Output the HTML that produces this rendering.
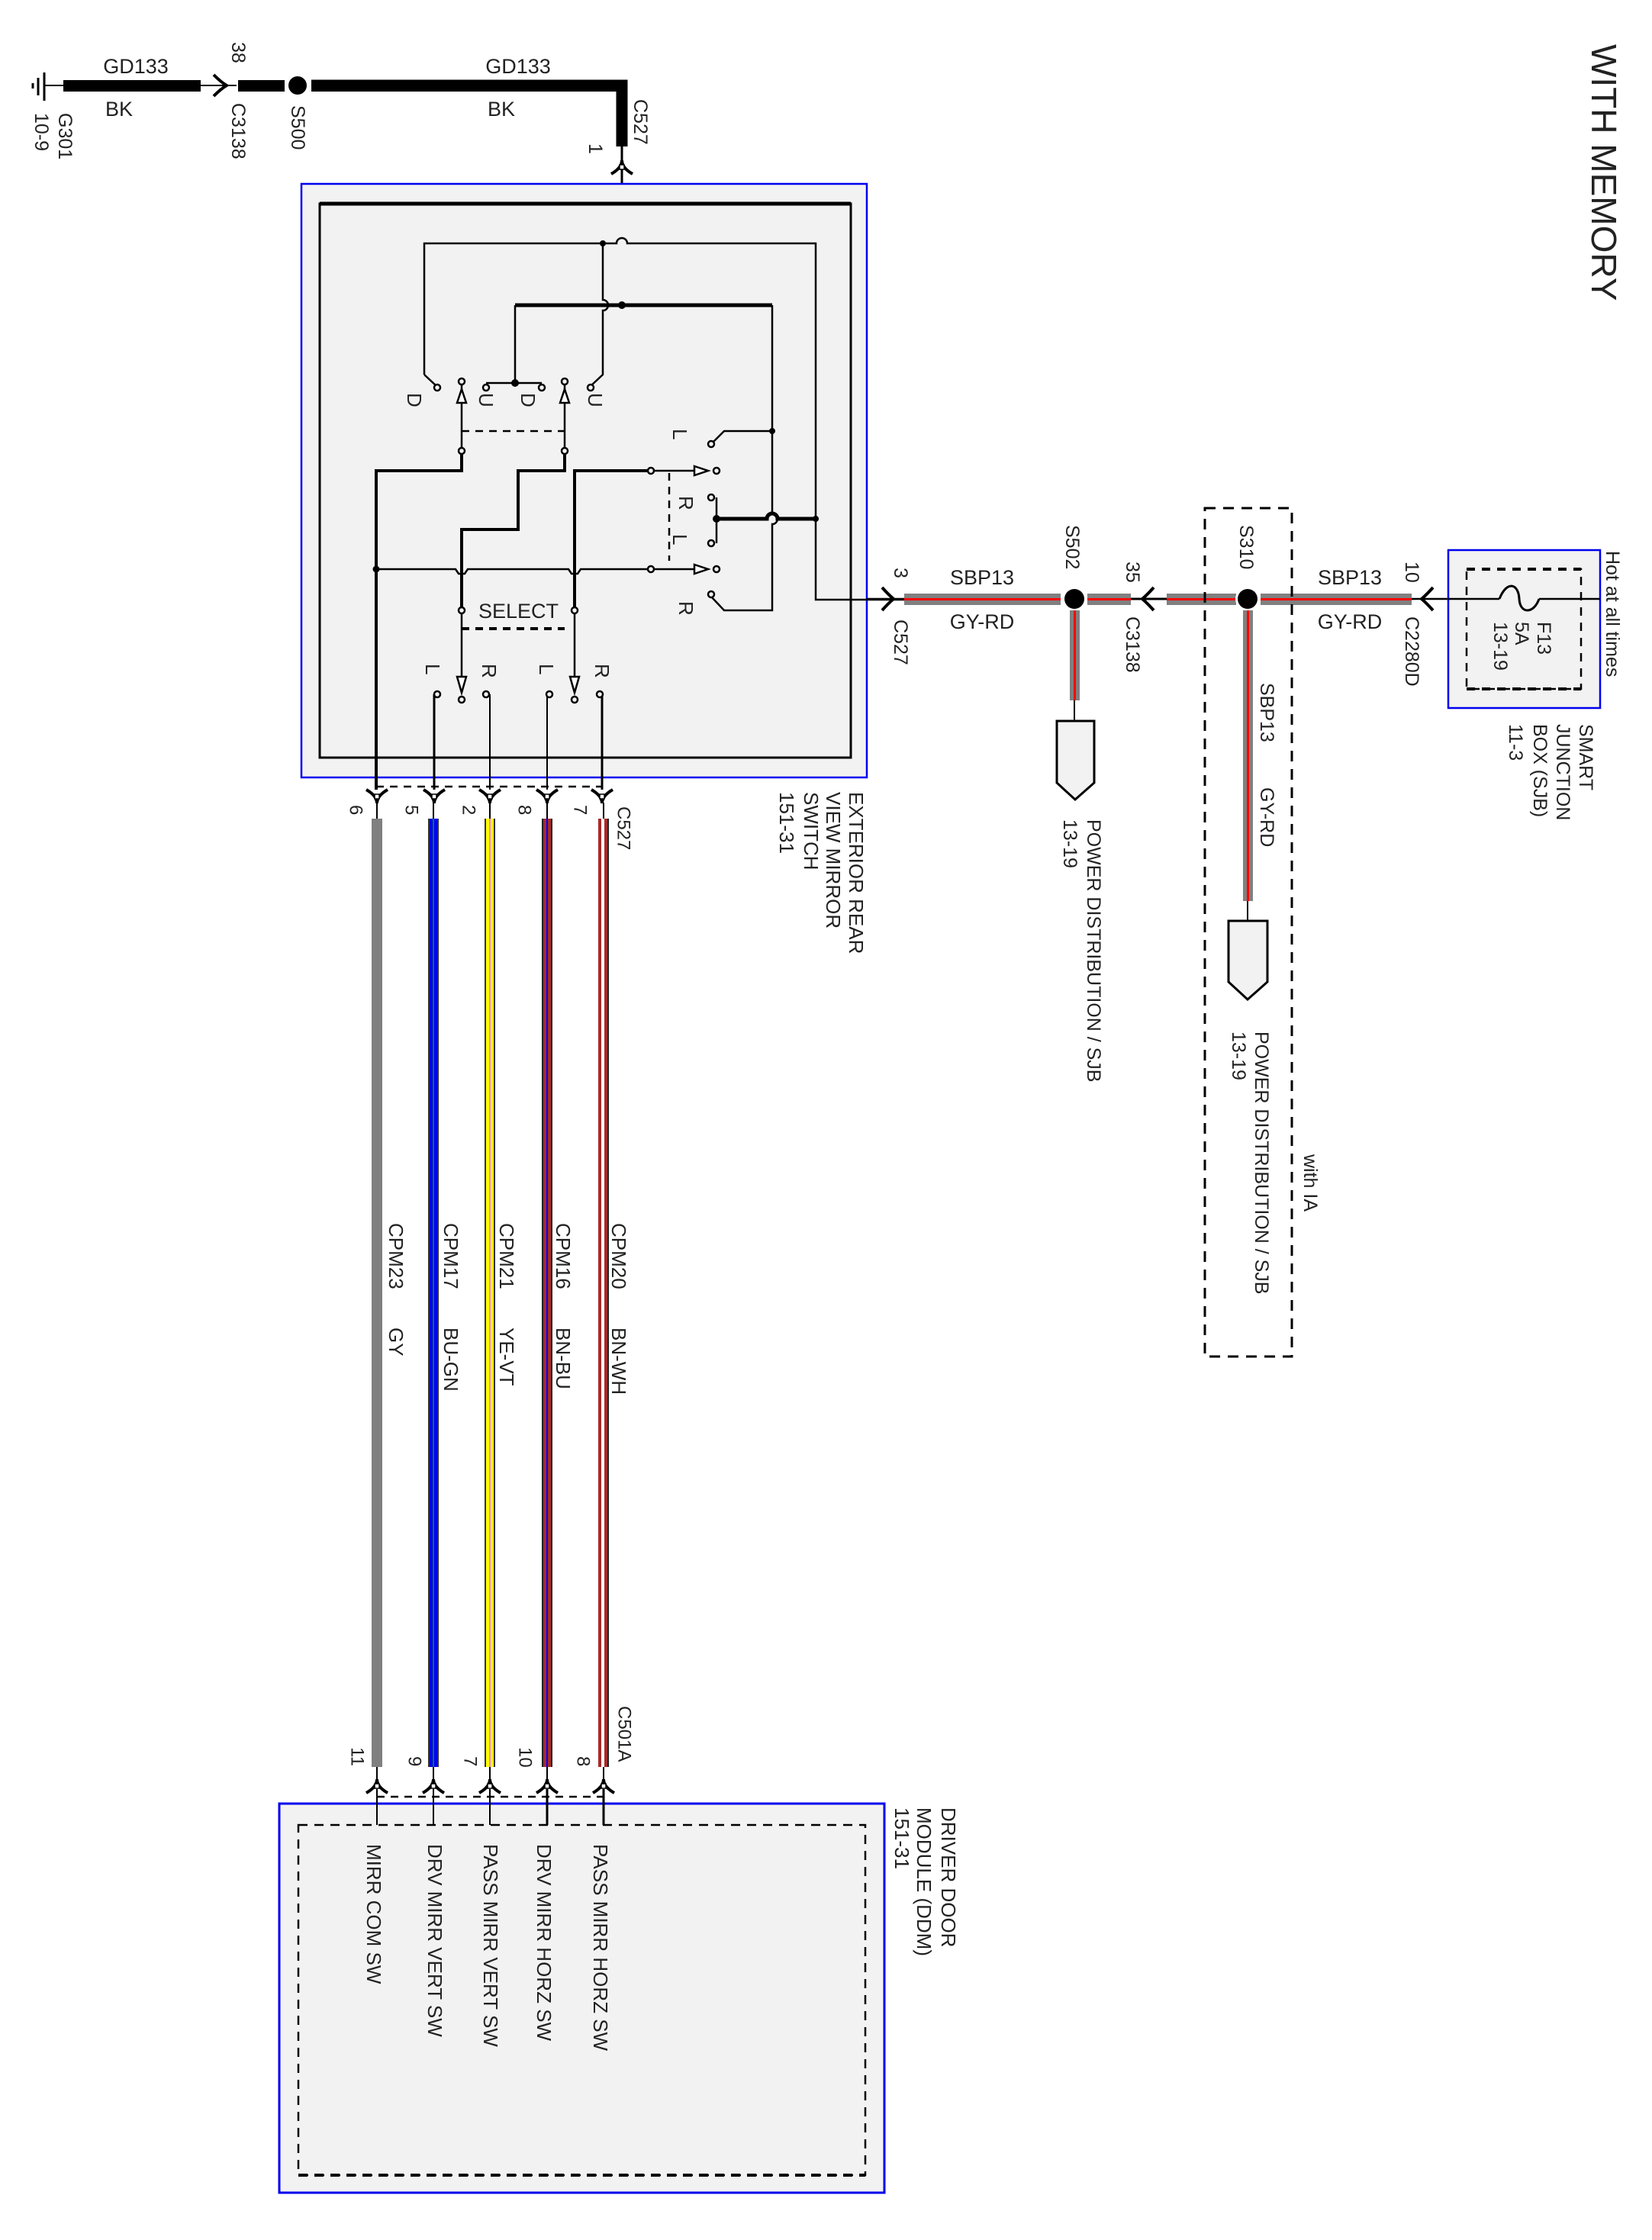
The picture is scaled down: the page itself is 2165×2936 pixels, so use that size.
<!DOCTYPE html>
<html><head><meta charset="utf-8"><style>
html,body{margin:0;padding:0;background:#fff}
svg{display:block}
text{font-family:"Liberation Sans",Arial,sans-serif;fill:#222}
</style></head><body>
<svg xmlns="http://www.w3.org/2000/svg" width="2165" height="2936" viewBox="0 0 2165 2936">
<defs>
<g id="cd"><path d="M-14,-10 Q0,-2 0,8 Q0,-2 14,-10" fill="none" stroke="#000" stroke-width="4"/><rect x="-3" y="-4" width="6" height="6" fill="#fff" stroke="#000" stroke-width="1.5"/></g>
</defs>
<rect width="2165" height="2936" fill="#fff"/>

<line x1="58" y1="95" x2="58" y2="132" stroke="#000" stroke-width="3"/>
<line x1="50" y1="102" x2="50" y2="125" stroke="#000" stroke-width="3"/>
<line x1="43" y1="109" x2="43" y2="116" stroke="#000" stroke-width="3"/>
<line x1="58" y1="112" x2="310" y2="112" stroke="#000" stroke-width="2"/>
<rect x="83" y="105" width="180" height="15" fill="#000"/>
<path d="M280,98 Q290,108 297,112 Q290,116 280,126" fill="none" stroke="#000" stroke-width="4"/>
<rect x="312" y="105" width="61" height="15" fill="#000"/>
<circle cx="390" cy="112" r="12" fill="#000"/>
<path d="M408,112 H815 V192" fill="none" stroke="#000" stroke-width="15"/>
<rect x="408" y="105" width="414" height="15" fill="#000"/>
<line x1="815" y1="190" x2="815" y2="400" stroke="#000" stroke-width="3"/>
<g transform="translate(815,218) rotate(180)"><use href="#cd"/></g>

<text x="178" y="96" font-size="27" text-anchor="middle">GD133</text>
<text x="156" y="152" font-size="27" text-anchor="middle">BK</text>
<text x="679" y="96" font-size="27" text-anchor="middle">GD133</text>
<text x="657" y="152" font-size="27" text-anchor="middle">BK</text>
<g font-size="25" dominant-baseline="central">
<text transform="translate(85,148) rotate(90)">G301</text>
<text transform="translate(54,148) rotate(90)">10-9</text>
<text transform="translate(312,55) rotate(90)">38</text>
<text transform="translate(312,135) rotate(90)">C3138</text>
<text transform="translate(390,138) rotate(90)">S500</text>
<text transform="translate(839,130) rotate(90)">C527</text>
<text transform="translate(780,188) rotate(90)">1</text>
</g>

<rect x="395" y="241" width="741" height="778" fill="#f2f2f2" stroke="#0000ee" stroke-width="2.5"/>
<rect x="419" y="267" width="696" height="726" fill="none" stroke="#000" stroke-width="3"/>
<line x1="419" y1="267" x2="1115" y2="267" stroke="#000" stroke-width="5"/>

<g fill="none" stroke="#000" stroke-width="2.5">
<path d="M556,491 V319 H808 a7,7 0 0 1 14,0 H1069 V786 H1185"/>
<path d="M556,491 L572,506"/>
<path d="M790,319 V393 a7,7 0 0 1 0,14 V491 L774,506"/>
<path d="M675,400 H1012" stroke-width="5"/>
<path d="M675,400 V502"/>
<path d="M637,502 H710"/>
<path d="M1012,400 V673 a7,7 0 0 1 0,14 V800 H949 L932,782"/>
<path d="M1012,565 H949 L932,582"/>
<path d="M939,652 V712"/>
<path d="M939,680 H1005 a7,7 0 0 1 14,0 H1069" stroke-width="5"/>
<path d="M605,500 V591"/>
<path d="M740,500 V591"/>
<path d="M605,591 V617 H493 V1035" stroke-width="4"/>
<path d="M740,591 V617 H679 V694 H605 V800" stroke-width="4"/>
<path d="M753,800 V617 H853" stroke-width="4"/>
<path d="M493,746 H597 l4,6 h8 l4,-6 H745 l4,6 h8 l4,-6 H853"/>
<path d="M853,617 H910"/>
<path d="M853,746 H910"/>
<path d="M605,800 V890"/>
<path d="M753,800 V890"/>
<path d="M569,910 V1035" stroke-width="3"/>
<path d="M642,910 V1035" stroke-width="2"/>
<path d="M717,910 V1035" stroke-width="2"/>
<path d="M789,910 V1035" stroke-width="3"/>
</g>
<g fill="none" stroke="#000" stroke-width="2.5" stroke-dasharray="10,8">
<path d="M605,565 H740"/>
<path d="M877,620 V735"/>
<path d="M605,824 H740" stroke-width="4"/>
<path d="M493,1031 H789"/>
</g>
<g fill="#000">
<circle cx="815" cy="400" r="5"/>
<circle cx="675" cy="502" r="5"/>
<circle cx="493" cy="746" r="4.5"/>
<circle cx="939" cy="680" r="5"/>
<circle cx="1069" cy="680" r="4"/>
<circle cx="1012" cy="565" r="4"/>
<circle cx="790" cy="319" r="4"/>
</g>
<g fill="#f2f2f2" stroke="#000" stroke-width="2.5">
<circle cx="573" cy="508" r="4"/><circle cx="637" cy="508" r="4"/><circle cx="710" cy="508" r="4"/><circle cx="774" cy="508" r="4"/>
<circle cx="605" cy="500" r="4"/><circle cx="740" cy="500" r="4"/>
<circle cx="605" cy="591" r="4"/><circle cx="740" cy="591" r="4"/>
<circle cx="932" cy="582" r="4"/><circle cx="939" cy="617" r="4"/><circle cx="932" cy="652" r="4"/><circle cx="932" cy="712" r="4"/><circle cx="939" cy="746" r="4"/><circle cx="932" cy="779" r="4"/>
<circle cx="853" cy="617" r="4"/><circle cx="853" cy="746" r="4"/>
<circle cx="605" cy="800" r="4"/><circle cx="753" cy="800" r="4"/>
<circle cx="605" cy="917" r="4"/><circle cx="753" cy="917" r="4"/>
<circle cx="573" cy="910" r="4"/><circle cx="637" cy="910" r="4"/><circle cx="720" cy="910" r="4"/><circle cx="786" cy="910" r="4"/>
</g>
<g fill="#fff" stroke="#000" stroke-width="2.5">
<path d="M599,528 L605,510 L611,528 Z"/>
<path d="M734,528 L740,510 L746,528 Z"/>
<path d="M910,611 L928,617 L910,623 Z"/>
<path d="M910,740 L928,746 L910,752 Z"/>
<path d="M599,887 L605,908 L611,887 Z"/>
<path d="M747,887 L753,908 L759,887 Z"/>
</g>
<g font-size="26" dominant-baseline="central" fill="#333">
<text transform="translate(543,515) rotate(90)">D</text>
<text transform="translate(637,515) rotate(90)">U</text>
<text transform="translate(692,515) rotate(90)">D</text>
<text transform="translate(780,515) rotate(90)">U</text>
<text transform="translate(891,562) rotate(90)">L</text>
<text transform="translate(899,650) rotate(90)">R</text>
<text transform="translate(891,700) rotate(90)">L</text>
<text transform="translate(899,788) rotate(90)">R</text>
<text transform="translate(567,870) rotate(90)">L</text>
<text transform="translate(641,870) rotate(90)">R</text>
<text transform="translate(716,870) rotate(90)">L</text>
<text transform="translate(789,870) rotate(90)">R</text>
</g>
<text x="627" y="810" font-size="27">SELECT</text>

<g transform="translate(494,1045)"><use href="#cd"/></g>
<g transform="translate(569,1045)"><use href="#cd"/></g>
<g transform="translate(642,1045)"><use href="#cd"/></g>
<g transform="translate(717,1045)"><use href="#cd"/></g>
<g transform="translate(789,1045)"><use href="#cd"/></g>
<g font-size="24" dominant-baseline="central" fill="#333">
<text transform="translate(466,1055) rotate(90)">6</text>
<text transform="translate(539,1055) rotate(90)">5</text>
<text transform="translate(614,1055) rotate(90)">2</text>
<text transform="translate(687,1055) rotate(90)">8</text>
<text transform="translate(760,1055) rotate(90)">7</text>
<text transform="translate(817,1057) rotate(90)">C527</text>
</g>
<g font-size="26" dominant-baseline="central" fill="#333">
<text transform="translate(1122,1038) rotate(90)">EXTERIOR REAR</text>
<text transform="translate(1092,1038) rotate(90)">VIEW MIRROR</text>
<text transform="translate(1063,1038) rotate(90)">SWITCH</text>
<text transform="translate(1031,1038) rotate(90)">151-31</text>
</g>

<g>
<line x1="494" y1="1052" x2="494" y2="2335" stroke="#000" stroke-width="2"/>
<line x1="568" y1="1052" x2="568" y2="2335" stroke="#000" stroke-width="2"/>
<line x1="642" y1="1052" x2="642" y2="2335" stroke="#000" stroke-width="2"/>
<line x1="717" y1="1052" x2="717" y2="2335" stroke="#000" stroke-width="2"/>
<line x1="791" y1="1052" x2="791" y2="2335" stroke="#000" stroke-width="2"/>
<rect x="487" y="1073" width="14" height="1243" fill="#808080"/>
<rect x="561" y="1073" width="14" height="1243" fill="#333"/><rect x="563" y="1073" width="10" height="1243" fill="#0000ff"/><rect x="567" y="1073" width="2" height="1243" fill="#008000"/>
<rect x="635" y="1073" width="14" height="1243" fill="#333"/><rect x="637" y="1073" width="10" height="1243" fill="#ffff00"/><rect x="641" y="1073" width="2" height="1243" fill="#ff77ff"/>
<rect x="710" y="1073" width="14" height="1243" fill="#222"/><rect x="712" y="1073" width="10" height="1243" fill="#a52a2a"/><rect x="716" y="1073" width="2" height="1243" fill="#0000ff"/>
<rect x="784" y="1073" width="14" height="1243" fill="#222"/><rect x="784" y="1073" width="12" height="1243" fill="#a52a2a"/><rect x="788" y="1073" width="4" height="1243" fill="#fff"/>
</g>
<g font-size="26" dominant-baseline="central" fill="#333">
<text transform="translate(519,1603) rotate(90)">CPM23</text><text transform="translate(519,1740) rotate(90)">GY</text>
<text transform="translate(591,1603) rotate(90)">CPM17</text><text transform="translate(591,1740) rotate(90)">BU-GN</text>
<text transform="translate(664,1603) rotate(90)">CPM21</text><text transform="translate(664,1740) rotate(90)">YE-VT</text>
<text transform="translate(738,1603) rotate(90)">CPM16</text><text transform="translate(738,1740) rotate(90)">BN-BU</text>
<text transform="translate(811,1603) rotate(90)">CPM20</text><text transform="translate(811,1740) rotate(90)">BN-WH</text>
</g>

<line x1="494" y1="2355" x2="791" y2="2355" stroke="#000" stroke-width="2.5" stroke-dasharray="10,8"/>
<g transform="translate(494,2340) rotate(180)"><use href="#cd"/></g>
<g transform="translate(568,2340) rotate(180)"><use href="#cd"/></g>
<g transform="translate(642,2340) rotate(180)"><use href="#cd"/></g>
<g transform="translate(717,2340) rotate(180)"><use href="#cd"/></g>
<g transform="translate(791,2340) rotate(180)"><use href="#cd"/></g>
<g font-size="24" dominant-baseline="central" fill="#333">
<text transform="translate(468,2290) rotate(90)">11</text>
<text transform="translate(543,2302) rotate(90)">9</text>
<text transform="translate(616,2302) rotate(90)">7</text>
<text transform="translate(688,2290) rotate(90)">10</text>
<text transform="translate(764,2302) rotate(90)">8</text>
<text transform="translate(818,2236) rotate(90)">C501A</text>
</g>
<rect x="366" y="2364" width="793" height="510" fill="#f2f2f2" stroke="#0000ee" stroke-width="3"/>
<rect x="391" y="2392" width="743" height="459" fill="none" stroke="#000" stroke-width="2.5" stroke-dasharray="12,9"/>
<line x1="391" y1="2851" x2="1134" y2="2851" stroke="#000" stroke-width="4" stroke-dasharray="12,9"/>
<g stroke="#000" stroke-width="2">
<line x1="494" y1="2345" x2="494" y2="2392"/><line x1="568" y1="2345" x2="568" y2="2392"/><line x1="642" y1="2345" x2="642" y2="2392"/><line x1="717" y1="2345" x2="717" y2="2392" stroke-width="3"/><line x1="791" y1="2345" x2="791" y2="2392" stroke-width="3"/>
</g>
<g font-size="26" dominant-baseline="central" fill="#333">
<text transform="translate(490,2417) rotate(90)">MIRR COM SW</text>
<text transform="translate(570,2417) rotate(90)">DRV MIRR VERT SW</text>
<text transform="translate(643,2417) rotate(90)">PASS MIRR VERT SW</text>
<text transform="translate(713,2417) rotate(90)">DRV MIRR HORZ SW</text>
<text transform="translate(787,2417) rotate(90)">PASS MIRR HORZ SW</text>
<text transform="translate(1243,2369) rotate(90)">DRIVER DOOR</text>
<text transform="translate(1211,2369) rotate(90)">MODULE (DDM)</text>
<text transform="translate(1182,2369) rotate(90)">151-31</text>
</g>

<line x1="1136" y1="785" x2="1185" y2="785" stroke="#000" stroke-width="2.5"/>
<path d="M1156,770 Q1165,780 1171,785 Q1165,790 1156,800" fill="none" stroke="#000" stroke-width="4"/>
<rect x="1185" y="778" width="205" height="15" fill="#808080"/><rect x="1185" y="784" width="205" height="3" fill="#ff0000"/>
<rect x="1425" y="778" width="57" height="15" fill="#808080"/><rect x="1425" y="784" width="57" height="3" fill="#ff0000"/>
<circle cx="1408" cy="785" r="16" fill="#fff"/><circle cx="1408" cy="785" r="13" fill="#000"/>
<line x1="1482" y1="785" x2="1529" y2="785" stroke="#000" stroke-width="3"/>
<path d="M1512,770 Q1503,780 1497,785 Q1503,790 1512,800" fill="none" stroke="#000" stroke-width="4"/>
<rect x="1529" y="778" width="91" height="15" fill="#808080"/><rect x="1529" y="784" width="91" height="3" fill="#ff0000"/>
<rect x="1652" y="778" width="198" height="15" fill="#808080"/><rect x="1652" y="784" width="198" height="3" fill="#ff0000"/>
<circle cx="1635" cy="785" r="16" fill="#fff"/><circle cx="1635" cy="785" r="13" fill="#000"/>
<line x1="1850" y1="785" x2="2097" y2="785" stroke="#000" stroke-width="2.5"/>
<path d="M1878,770 Q1869,780 1863,785 Q1869,790 1878,800" fill="none" stroke="#000" stroke-width="4"/>
<rect x="1402" y="800" width="13" height="118" fill="#808080"/><rect x="1407" y="800" width="3" height="118" fill="#ff0000"/>
<line x1="1408" y1="918" x2="1408" y2="945" stroke="#000" stroke-width="2"/>
<path d="M1385,945 H1434 V1026 L1409,1048 L1385,1026 Z" fill="#f2f2f2" stroke="#000" stroke-width="3"/>
<rect x="1629" y="800" width="13" height="381" fill="#808080"/><rect x="1634" y="800" width="3" height="381" fill="#ff0000"/>
<line x1="1635" y1="1181" x2="1635" y2="1207" stroke="#000" stroke-width="2"/>
<path d="M1610,1207 H1661 V1287 L1635,1310 L1610,1287 Z" fill="#f2f2f2" stroke="#000" stroke-width="3"/>
<rect x="1579" y="666" width="114" height="1112" fill="none" stroke="#000" stroke-width="3" stroke-dasharray="14,10"/>

<g font-size="27" fill="#222">
<text x="1287" y="766" text-anchor="middle">SBP13</text>
<text x="1287" y="824" text-anchor="middle">GY-RD</text>
<text x="1769" y="766" text-anchor="middle">SBP13</text>
<text x="1769" y="824" text-anchor="middle">GY-RD</text>
</g>
<g font-size="25" dominant-baseline="central" fill="#333">
<text transform="translate(1180,744) rotate(90)">3</text>
<text transform="translate(1180,812) rotate(90)">C527</text>
<text transform="translate(1405,688) rotate(90)">S502</text>
<text transform="translate(1484,736) rotate(90)">35</text>
<text transform="translate(1484,808) rotate(90)">C3138</text>
<text transform="translate(1633,688) rotate(90)">S310</text>
<text transform="translate(1850,736) rotate(90)">10</text>
<text transform="translate(1850,808) rotate(90)">C2280D</text>
<text transform="translate(1660,895) rotate(90)">SBP13</text>
<text transform="translate(1660,1032) rotate(90)">GY-RD</text>
<text transform="translate(1433,1074) rotate(90)">POWER DISTRIBUTION / SJB</text>
<text transform="translate(1402,1074) rotate(90)">13-19</text>
<text transform="translate(1653,1352) rotate(90)">POWER DISTRIBUTION / SJB</text>
<text transform="translate(1623,1352) rotate(90)">13-19</text>
<text transform="translate(1717,1513) rotate(90)">with IA</text>
</g>

<rect x="1898" y="721" width="199" height="207" fill="#f2f2f2" stroke="#0000ee" stroke-width="2.5"/>
<line x1="1898" y1="785" x2="1965" y2="785" stroke="#000" stroke-width="2.5"/>
<path d="M1965,785 C1975,760 1990,765 1991,785 C1992,805 2010,805 2017,785" fill="none" stroke="#000" stroke-width="3"/>
<line x1="2017" y1="785" x2="2097" y2="785" stroke="#000" stroke-width="2.5"/>
<rect x="1922" y="746" width="150" height="157" fill="none" stroke="#000" stroke-width="2.5" stroke-dasharray="11,9"/>
<line x1="1922" y1="746" x2="2072" y2="746" stroke="#000" stroke-width="4" stroke-dasharray="11,9"/>
<line x1="1922" y1="903" x2="2072" y2="903" stroke="#000" stroke-width="4" stroke-dasharray="11,9"/>
<g font-size="25" dominant-baseline="central" fill="#333">
<text transform="translate(2023,815) rotate(90)">F13</text>
<text transform="translate(1994,815) rotate(90)">5A</text>
<text transform="translate(1966,815) rotate(90)">13-19</text>
<text transform="translate(2113,722) rotate(90)">Hot at all times</text>
<text transform="translate(2078,949) rotate(90)">SMART</text>
<text transform="translate(2048,949) rotate(90)">JUNCTION</text>
<text transform="translate(2018,949) rotate(90)">BOX (SJB)</text>
<text transform="translate(1986,949) rotate(90)">11-3</text>
</g>
<text transform="translate(2102,58) rotate(90)" font-size="46" dominant-baseline="central" fill="#222">WITH MEMORY</text>
</svg>
</body></html>
